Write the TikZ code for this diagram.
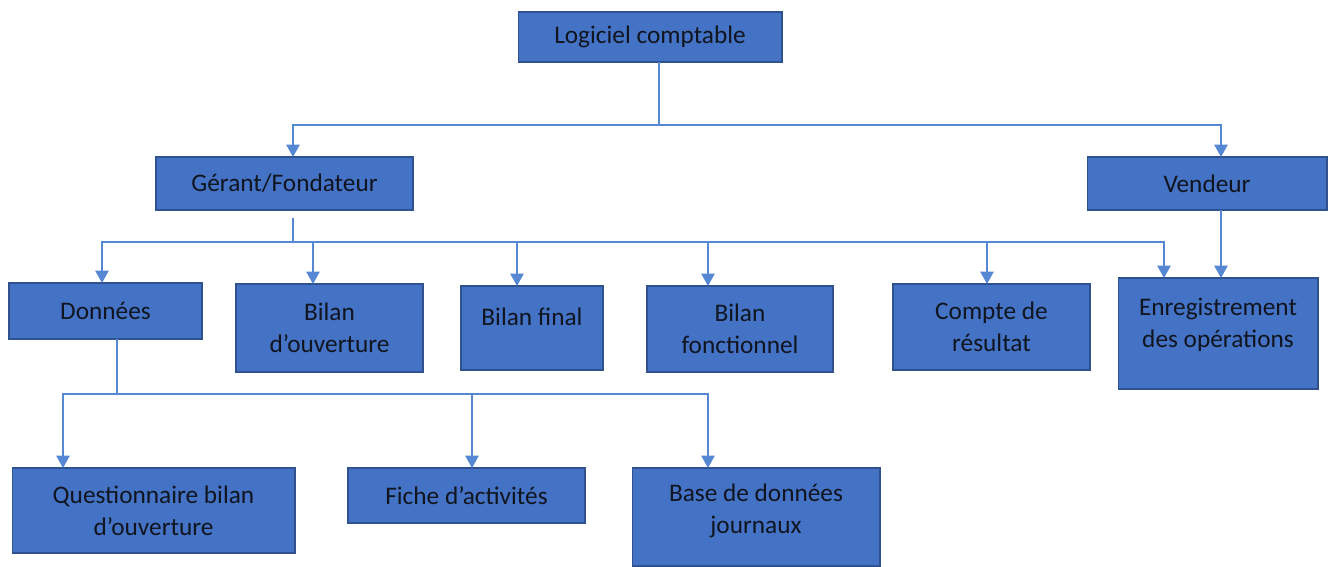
\documentclass[tikz,border=0pt]{standalone}
\usepackage{fontspec}
\setmainfont{Carlito}
\usetikzlibrary{arrows.meta,calc}
\definecolor{boxblue}{HTML}{4472C4}
\definecolor{boxedge}{HTML}{2F528F}
\definecolor{linkblue}{HTML}{5687D3}
\definecolor{inkdark}{HTML}{10151F}

\begin{document}
\begin{tikzpicture}[
        x=0.02cm, y=-0.02cm,
        box/.style={rectangle, draw=boxedge, line width=0.6pt, fill=boxblue, text=inkdark, align=center,
            inner sep=0pt, outer sep=0pt, font=\fontsize{14.4}{18.2}\selectfont},
        link/.style={draw=linkblue, line width=1.1pt},
        arrow/.style={link, -{Triangle[width=7.5pt,length=7pt]}}
    ]
        \useasboundingbox (0,0) rectangle (1333,566);

        % first level
        \node (logiciel) [box, minimum width=5.28cm, minimum height=1.00cm] at (650,37) {Logiciel comptable};
        \node (gerant) [box, minimum width=5.14cm, minimum height=1.06cm] at (284.5,183.5) {Gérant/Fondateur};
        \node (vendeur) [box, minimum width=4.80cm, minimum height=1.06cm] at (1207,183.5) {Vendeur};

        % second level
        \node (donnees) [box, minimum width=3.86cm, minimum height=1.12cm] at (105.5,311) {Données};
        \node (bilanouv) [box, minimum width=3.74cm, minimum height=1.76cm] at (329.5,328) {Bilan\\d’ouverture};
        \node (bilanfin) [box, minimum width=2.84cm, minimum height=1.68cm, text depth=12.5pt] at (532,328) {Bilan final};
        \node (bilanfonc) [box, minimum width=3.72cm, minimum height=1.72cm] at (740,329) {Bilan\\fonctionnel};
        \node (compte) [box, minimum width=3.94cm, minimum height=1.72cm] at (991.5,327) {Compte de\\résultat};
        \node (enreg) [box, minimum width=4.00cm, minimum height=2.22cm, text depth=12.5pt] at (1218,333.5) {Enregistrement\\des opérations};

        % third level
        \node (questio) [box, minimum width=5.66cm, minimum height=1.70cm] at (153.5,510.5) {Questionnaire bilan\\d’ouverture};
        \node (fiche) [box, minimum width=4.74cm, minimum height=1.10cm] at (466.5,495.5) {Fiche d’activités};
        \node (basedon) [box, minimum width=4.96cm, minimum height=1.96cm, text depth=9pt] at (756,517) {Base de données\\journaux};

        % connectors
        \coordinate (bus1) at (659,125);
        \coordinate (bus2) at (293,242);
        \coordinate (bus3) at (117,394);

        \draw[link] ($(logiciel.south)+(9,0)$) -- (bus1);
        \draw[arrow] (bus1) -| ($(gerant.north)+(8.5,0)$);
        \draw[arrow] (bus1) -| ($(vendeur.north)+(14,0)$);

        \draw[link] ($(gerant.south)+(8.5,8)$) -- (bus2);
        \draw[arrow] (bus2) -| ($(donnees.north)+(-3.5,0)$);
        \draw[arrow] (bus2) -| ($(bilanouv.north)+(-16.5,0)$);
        \draw[arrow] (bus2) -| ($(bilanfin.north)+(-15,0)$);
        \draw[arrow] (bus2) -| ($(bilanfonc.north)+(-32,0)$);
        \draw[arrow] (bus2) -| ($(compte.north)+(-4.5,0)$);
        \draw[arrow] (bus2) -| ($(enreg.north)+(-54,0)$);
        \draw[arrow] ($(vendeur.south)+(14,0)$) -- ($(enreg.north)+(3,0)$);

        \draw[link] ($(donnees.south)+(11.5,0)$) -- (bus3);
        \draw[arrow] (bus3) -| ($(questio.north)+(-90.5,0)$);
        \draw[arrow] (bus3) -| ($(fiche.north)+(5.5,0)$);
        \draw[arrow] (bus3) -| ($(basedon.north)+(-48,0)$);
    \end{tikzpicture}
\end{document}
